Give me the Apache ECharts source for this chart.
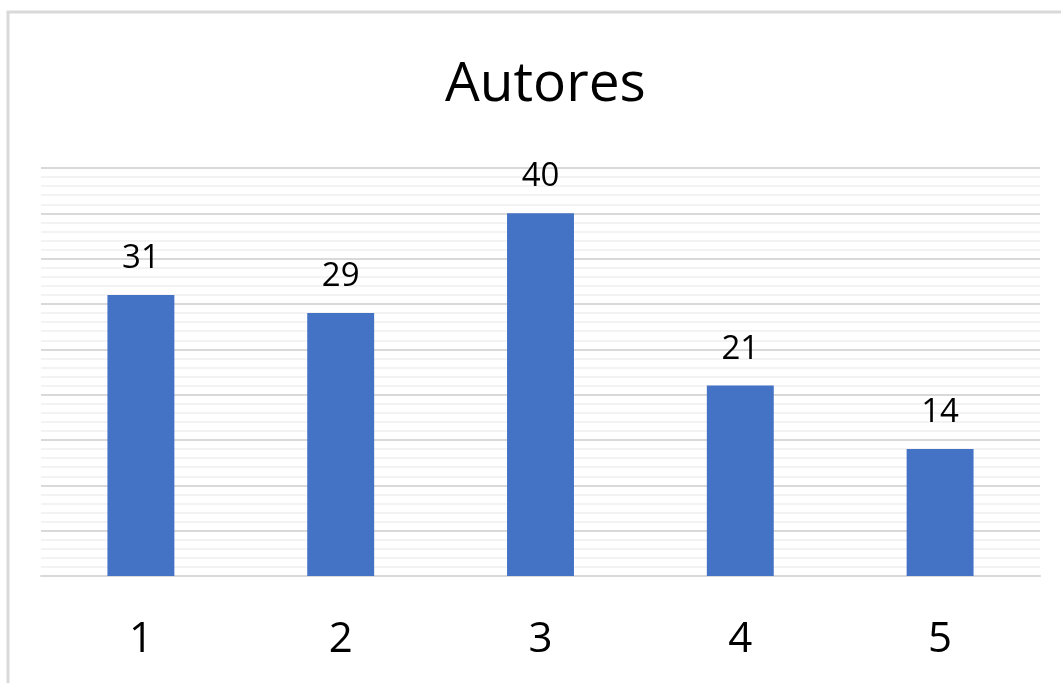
<!DOCTYPE html>
<html>
<head>
<meta charset="utf-8">
<title>Autores</title>
<script src="https://cdn.jsdelivr.net/npm/echarts@6/dist/echarts.min.js"></script>
<style>
  html, body { margin: 0; padding: 0; background: #fff; }
  #chart { width: 1061px; height: 683px; }
</style>
</head>
<body>
<div id="chart"></div>
<script>
const categories = ['1', '2', '3', '4', '5']
const autores = [31, 29, 40, 21, 14]

const chart = echarts.init(document.getElementById('chart'))

const option = {
  backgroundColor: '#fff',
  animation: false,
  title: {
    text: 'Autores',
    left: 440,
    top: 53,
    textStyle: {
      fontFamily: 'Open Sans',
      fontSize: 55,
      fontWeight: 'normal',
      color: '#000'
    }
  },
  graphic: [
    {
      type: 'rect',
      shape: { x: 8, y: 12, width: 1100, height: 720 },
      style: { fill: 'none', stroke: '#d9d9d9', lineWidth: 3 },
      silent: true
    }
  ],
  grid: {
    left: 41,
    right: 21,
    top: 168,
    bottom: 107
  },
  xAxis: {
    type: 'category',
    data: categories,
    axisLine: { show: true, lineStyle: { color: '#d9d9d9', width: 2 } },
    axisTick: { show: false },
    axisLabel: {
      margin: 43,
      fontFamily: 'Open Sans',
      fontSize: 42,
      color: '#000'
    }
  },
  yAxis: {
    type: 'value',
    min: 0,
    max: 45,
    interval: 5,
    axisLabel: { show: false },
    axisLine: { show: false },
    axisTick: { show: false },
    splitLine: { show: true, lineStyle: { color: '#d9d9d9', width: 2 } },
    minorTick: { show: false, splitNumber: 5 },
    minorSplitLine: { show: true, lineStyle: { color: '#efefef', width: 1.5 } }
  },
  series: [
    {
      name: 'Autores',
      type: 'bar',
      data: autores,
      barWidth: '33.5%',
      itemStyle: { color: '#4472c4' },
      label: {
        show: true,
        position: 'top',
        distance: 20,
        fontFamily: 'Open Sans',
        fontSize: 33,
        color: '#000'
      }
    }
  ]
}

chart.setOption(option)
</script>
</body>
</html>
